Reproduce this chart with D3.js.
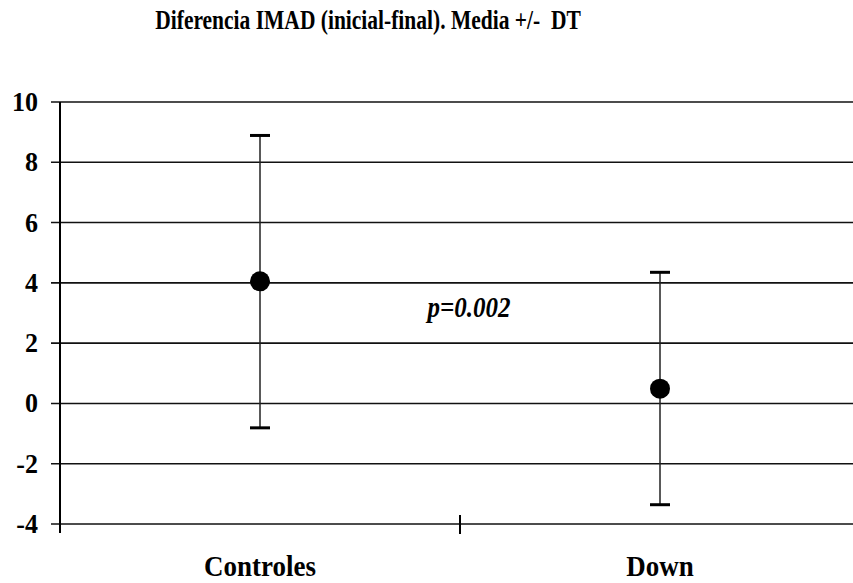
<!DOCTYPE html>
<html>
<head>
<meta charset="utf-8">
<script src="https://cdn.jsdelivr.net/npm/d3@7"></script>
<style>
  body { margin: 0; background: #fff; }
  text { font-family: "Liberation Serif", "Times New Roman", serif; font-weight: bold; fill: #000; white-space: pre; }
</style>
</head>
<body>
<svg id="chart" width="853" height="583"></svg>
<script>
// datos
const groups = ['Controles', 'Down'];
const means = [4.05, 0.49];
const upper = [8.89, 4.35];
const lower = [-0.81, -3.36];
const yTicks = [-4, -2, 0, 2, 4, 6, 8, 10];
const title = 'Diferencia IMAD (inicial-final). Media +/-  DT';
const pLabel = 'p=0.002';

const svg = d3.select('#chart');
const width = 853, height = 583;
const margin = {top: 102, right: -7, bottom: 59, left: 60};
const innerWidth = width - margin.left - margin.right;
const innerHeight = height - margin.top - margin.bottom;

const x = d3.scaleBand().domain(groups).range([0, innerWidth]);
const y = d3.scaleLinear().domain([-4, 10]).range([innerHeight, 0]);

const g = svg.append('g').attr('transform', `translate(${margin.left},${margin.top})`);

// lineas de cuadricula
g.selectAll('.grid').data(yTicks).join('line')
    .attr('class', 'grid')
    .attr('x1', -9).attr('x2', innerWidth)
    .attr('y1', d => y(d)).attr('y2', d => y(d))
    .attr('stroke', '#111').attr('stroke-width', 1.6);

// eje y
g.append('line')
    .attr('x1', 0).attr('x2', 0)
    .attr('y1', 0).attr('y2', innerHeight + 9)
    .attr('stroke', '#000').attr('stroke-width', 2);

g.selectAll('.ylab').data(yTicks).join('text')
    .attr('class', 'ylab')
    .attr('text-anchor', 'end')
    .attr('transform', d => `translate(-22,${y(d) + 9}) scale(1,1.05)`)
    .style('font-size', '26px')
    .text(d => d);

// marcas del eje x entre categorias
g.selectAll('.xtick').data(groups.slice(1)).join('line')
    .attr('class', 'xtick')
    .attr('x1', d => x(d)).attr('x2', d => x(d))
    .attr('y1', innerHeight - 9).attr('y2', innerHeight + 10)
    .attr('stroke', '#000').attr('stroke-width', 2);

g.selectAll('.xlab').data(groups).join('text')
    .attr('class', 'xlab')
    .attr('text-anchor', 'middle')
    .attr('transform', d => `translate(${x(d) + x.bandwidth() / 2},${innerHeight + 52}) scale(1,1.12)`)
    .style('font-size', '27px')
    .text(d => d);

// barras de error
const cx = i => x(groups[i]) + x.bandwidth() / 2;
const idx = d3.range(groups.length);

g.selectAll('.err').data(idx).join('line')
    .attr('class', 'err')
    .attr('x1', cx).attr('x2', cx)
    .attr('y1', i => y(upper[i])).attr('y2', i => y(lower[i]))
    .attr('stroke', '#222').attr('stroke-width', 1.5);

g.selectAll('.capU').data(idx).join('line')
    .attr('class', 'capU')
    .attr('x1', i => cx(i) - 10).attr('x2', i => cx(i) + 10)
    .attr('y1', i => y(upper[i])).attr('y2', i => y(upper[i]))
    .attr('stroke', '#000').attr('stroke-width', 3);

g.selectAll('.capL').data(idx).join('line')
    .attr('class', 'capL')
    .attr('x1', i => cx(i) - 10).attr('x2', i => cx(i) + 10)
    .attr('y1', i => y(lower[i])).attr('y2', i => y(lower[i]))
    .attr('stroke', '#000').attr('stroke-width', 3);

g.selectAll('.dot').data(idx).join('circle')
    .attr('class', 'dot')
    .attr('cx', cx).attr('cy', i => y(means[i]))
    .attr('r', 10).attr('fill', '#000');

// p valor
g.append('text')
    .attr('text-anchor', 'middle')
    .attr('transform', `translate(${x('Down') + 9},${y(3) + 4}) scale(1,1.15)`)
    .style('font-size', '25px').style('font-style', 'italic')
    .text(pLabel);

// titulo
svg.append('text')
    .attr('text-anchor', 'middle')
    .attr('transform', 'translate(368,29) scale(1,1.25)')
    .style('font-size', '21.5px')
    .text(title);
</script>
</body>
</html>
